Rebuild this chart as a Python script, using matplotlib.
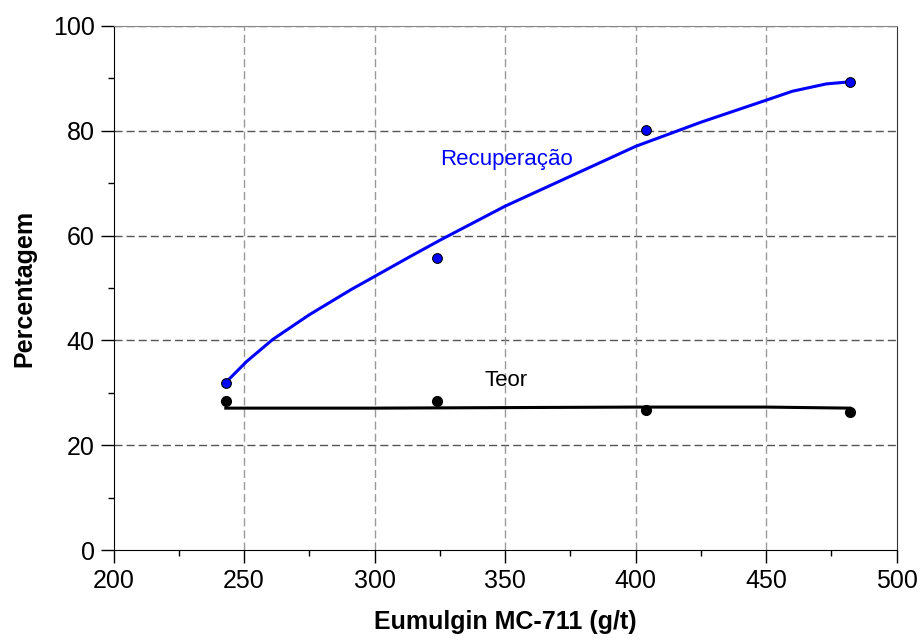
import matplotlib.pyplot as plt
from matplotlib.ticker import MultipleLocator

plt.rcParams['font.family'] = ['Liberation Sans', 'DejaVu Sans']

# measured points
dose = [243, 324, 404, 482]
recuperacao = [31.9, 55.8, 80.2, 89.3]
teor = [28.5, 28.5, 26.7, 26.4]

# fitted curves
fit_x_rec = [243, 251, 261, 275, 291, 300, 314, 325, 350, 375, 400, 425, 450, 460, 473, 482]
fit_rec = [32.0, 36.0, 40.2, 44.9, 49.7, 52.2, 56.1, 59.1, 65.6, 71.3, 77.0, 81.6, 85.8, 87.5, 88.9, 89.3]
fit_x_teor = [243, 300, 350, 400, 450, 482]
fit_teor = [27.1, 27.1, 27.2, 27.3, 27.3, 27.1]

fig = plt.figure(figsize=(9.23, 6.44), dpi=100)
ax = fig.add_axes([0.123, 0.1455, 0.8485, 0.8146])

# grid
for yv in range(20, 101, 20):
    ax.axhline(yv, color='#555555', lw=1, linestyle=(0, (5.8, 2.9)), zorder=1)
for xv in range(250, 500, 50):
    ax.axvline(xv, color='#999999', lw=1, linestyle=(0, (5.8, 2.9)), zorder=1)

ax.plot(fit_x_rec, fit_rec, color='#0000ff', lw=2.2, zorder=3)
ax.plot(fit_x_teor, fit_teor, color='black', lw=2.2, zorder=3)
ax.plot(dose, recuperacao, 'o', color='#0000ff', mec='black', mew=0.8, ms=7, zorder=4)
ax.plot(dose, teor, 'o', color='black', mec='black', ms=7, zorder=4)

ax.text(325, 74.4, 'Recuperação', color='#0000ff', fontsize=16, va='center', ha='left')
ax.text(350.5, 32.3, 'Teor', color='black', fontsize=16, va='center', ha='center')

ax.set_xlim(200, 500)
ax.set_ylim(0, 100)
ax.xaxis.set_major_locator(MultipleLocator(50))
ax.xaxis.set_minor_locator(MultipleLocator(25))
ax.yaxis.set_major_locator(MultipleLocator(20))
ax.yaxis.set_minor_locator(MultipleLocator(10))
ax.tick_params(which='major', direction='out', length=9.5, width=1, labelsize=18, pad=4)
ax.tick_params(which='minor', direction='out', length=4.5, width=1)

ax.spines['left'].set_color('black')
ax.spines['bottom'].set_color('black')
ax.spines['top'].set_color('#888888')
ax.spines['right'].set_color('#333333')

ax.set_xlabel('Eumulgin MC-711 (g/t)', fontsize=18, fontweight='bold', labelpad=12)
ax.set_ylabel('Percentagem', fontsize=18, fontweight='bold', labelpad=12)

fig.savefig('out.png', dpi=100)
